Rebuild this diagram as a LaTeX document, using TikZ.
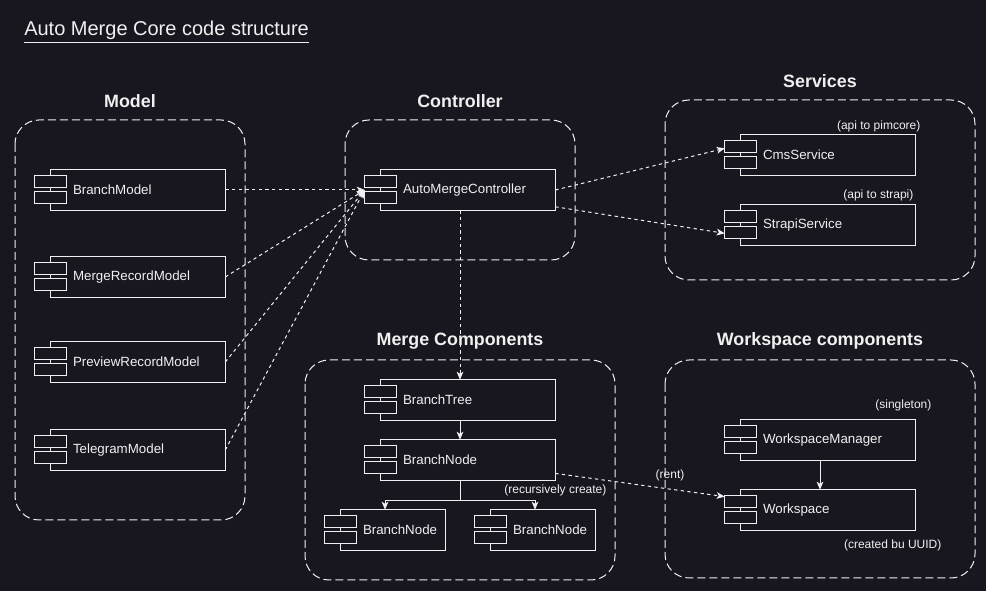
\documentclass[tikz,border=0pt]{standalone}
\usepackage{fontspec}
\setmainfont{Liberation Sans}
\usetikzlibrary{positioning,arrows.meta}
\definecolor{canvasbg}{HTML}{18161F}
\definecolor{inkline}{HTML}{F0F0F0}

\begin{document}
\begin{tikzpicture}[x=0.75pt, y=-0.75pt,
  compbox/.style={inner xsep=3pt, inner ysep=0pt, minimum height=30pt, align=left, text=inkline,
    font=\fontsize{10}{12}\selectfont, execute at begin node={\hspace*{25.5pt}},
    append after command={\pgfextra{
      \draw[inkline, line width=0.75pt] ([xshift=12pt]\tikzlastnode.north west) rectangle (\tikzlastnode.south east);
      \draw[inkline, line width=0.75pt, fill=canvasbg] ([yshift=1.5pt]\tikzlastnode.west) rectangle ++(24pt,9pt);
      \draw[inkline, line width=0.75pt, fill=canvasbg] ([yshift=-1.5pt]\tikzlastnode.west) rectangle ++(24pt,-9pt);
    }}},
  comp/.style={compbox, minimum width=142.5pt, text width=136.5pt},
  compsmall/.style={compbox, minimum width=90pt, text width=84pt},
  groupbox/.style={draw=inkline, line width=0.75pt, dash pattern=on 6pt off 3pt, rounded corners=18pt},
  grouptitle/.style={font=\bfseries\fontsize{13.4}{16}\selectfont, text=inkline},
  note/.style={font=\fontsize{9}{11}\selectfont, text=inkline, inner sep=1pt},
  dep/.style={draw=inkline, line width=0.75pt, dash pattern=on 2.5pt off 2.5pt, -{Stealth[length=6pt,width=5pt,inset=1.5pt]}},
  flow/.style={draw=inkline, line width=0.75pt, -{Stealth[length=6pt,width=5pt,inset=1.5pt]}}]

\fill[canvasbg] (0,0) rectangle (986,591);
\useasboundingbox (0,0) rectangle (986,591);

\node[anchor=west, font=\fontsize{15}{18}\selectfont, text=inkline, inner sep=0pt] (title) at (24,32) {\underline{Auto Merge Core code structure}};

% groups
\draw[groupbox] (15,120) rectangle (245,520);
\draw[groupbox] (345,120) rectangle (575,260);
\draw[groupbox] (665,100) rectangle (975,280);
\draw[groupbox] (305,360) rectangle (615,580);
\draw[groupbox] (665,360) rectangle (975,578);
\node[grouptitle] (tmodel) at (130,101) {Model};
\node[grouptitle] (tctrl) at (460,101) {Controller};
\node[grouptitle] (tserv) at (820,81) {Services};
\node[grouptitle] (tmerge) at (460,341) {Merge Components};
\node[grouptitle] (twork) at (820,341) {Workspace components};

% components
\node[comp] (bm) at (130,190) {BranchModel};
\node[comp] (mrm) at (130,277) {MergeRecordModel};
\node[comp] (prm) at (130,362) {PreviewRecordModel};
\node[comp] (tgm) at (130,450) {TelegramModel};
\node[comp] (ctrl) at (460,190) {AutoMergeController};
\node[comp] (cms) at (820,155) {CmsService};
\node[comp] (strapi) at (820,225) {StrapiService};
\node[comp] (bt) at (460,400) {BranchTree};
\node[comp] (bn) at (460,460) {BranchNode};
\node[compsmall] (bnl) at (385,530) {BranchNode};
\node[compsmall] (bnr) at (535,530) {BranchNode};
\node[comp] (wm) at (820,440) {WorkspaceManager};
\node[comp] (ws) at (820,510) {Workspace};

% notes
\node[note, anchor=east] (ncms) at (922,126) {(api to pimcore)};
\node[note, anchor=east] (nstrapi) at (915,195) {(api to strapi)};
\node[note, anchor=east] (nwm) at (933,405) {(singleton)};
\node[note, anchor=east] (nws) at (943,545) {(created bu UUID)};
\node[note, anchor=east] (nrec) at (608,490) {(recursively create)};
\node[note] (nrent) at (670,475) {(rent)};

% connectors
\draw[dep] (bm.east) -- (ctrl.west);
\draw[dep] (mrm.east) -- (ctrl.west);
\draw[dep] (prm.east) -- (ctrl.west);
\draw[dep] (tgm.east) -- (ctrl.west);
\draw[dep] (ctrl.east) -- (cms.176);
\draw[dep] (ctrl.-10) -- (strapi.185);
\draw[dep] (ctrl.south) -- (bt.north);
\draw[flow] (bt.south) -- (bn.north);
\draw[flow] (bn.south) -- ++(0,20) -| (bnl.north);
\draw[flow] (bn.south) -- ++(0,20) -| (bnr.north);
\draw[dep] (bn.-8) -- (ws.172);
\draw[flow] (wm.south) -- (ws.north);
\end{tikzpicture}
\end{document}
